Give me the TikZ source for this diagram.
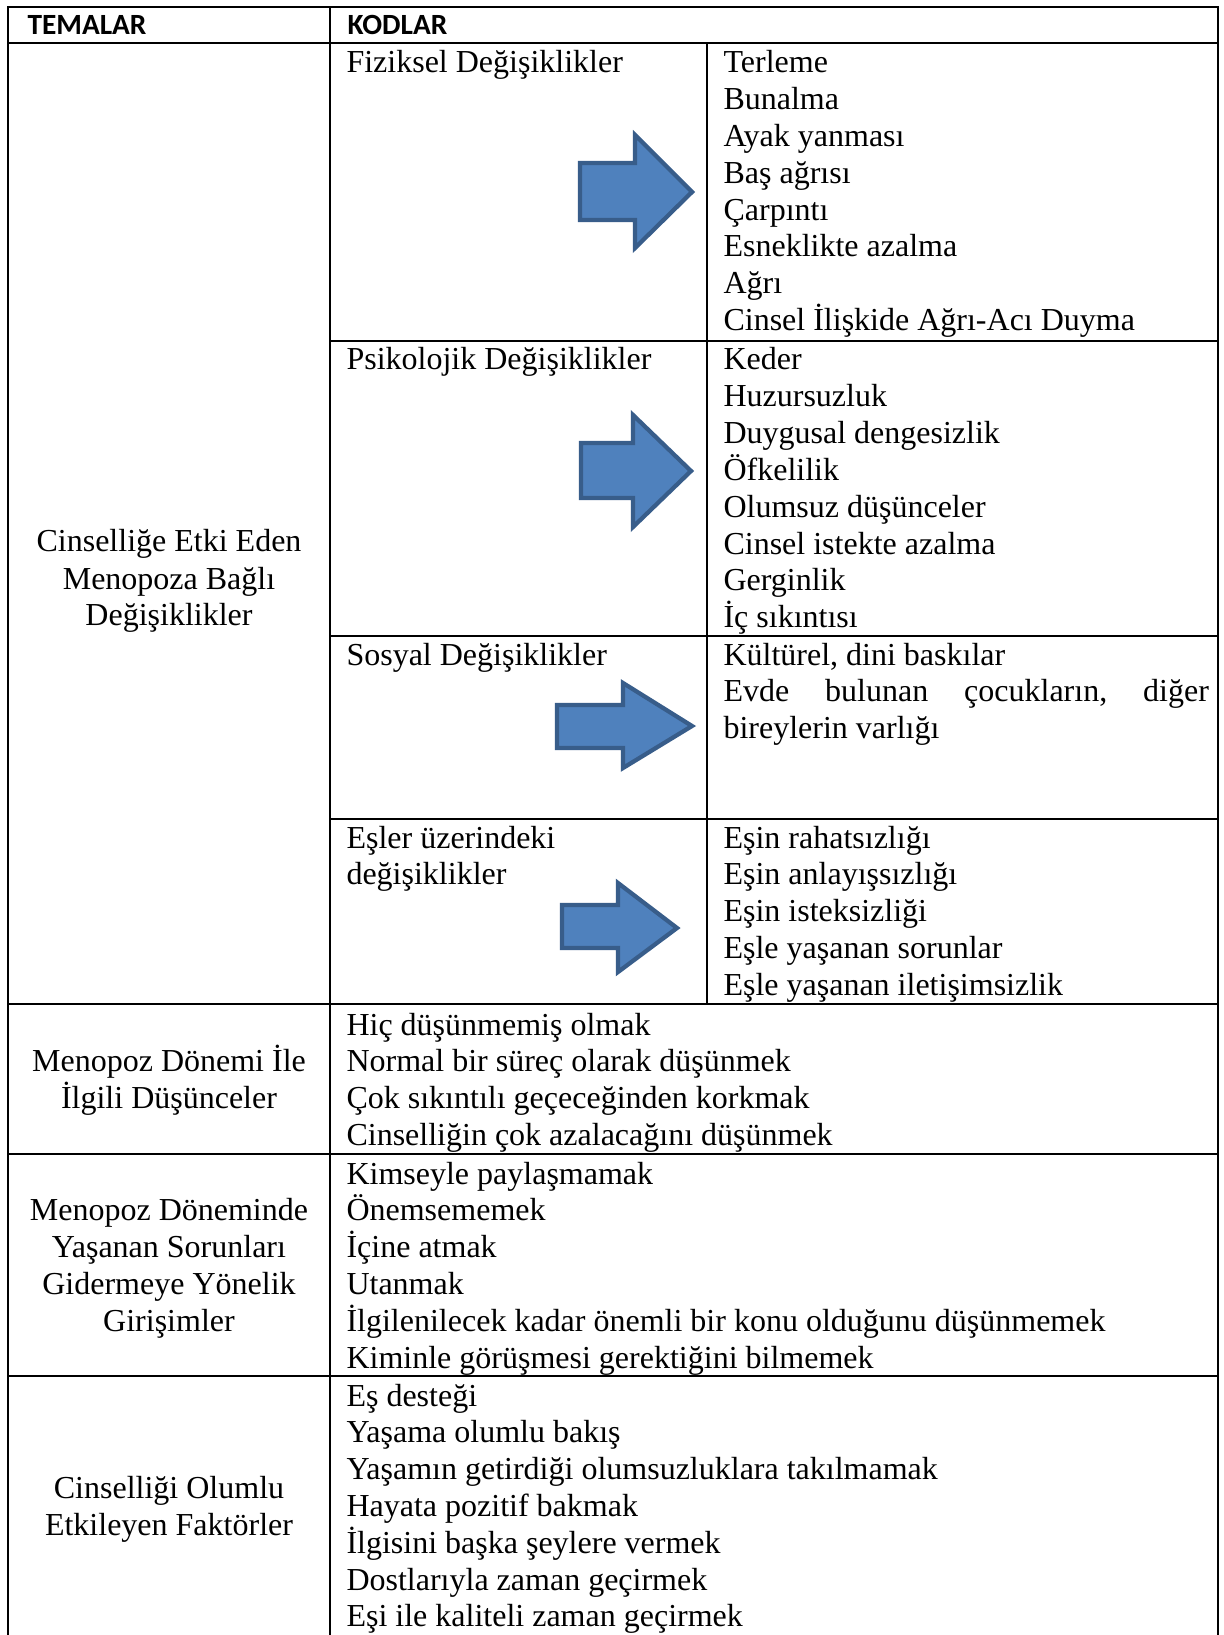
\documentclass[tikz,border=0pt]{standalone}
\usepackage{fontspec}
\setmainfont{Liberation Serif}
\newfontfamily\hdrfont{Carlito}
\definecolor{arrowfill}{HTML}{4F81BD}
\definecolor{arrowline}{HTML}{385D8A}
\begin{document}
\begin{tikzpicture}[x=0.375pt,y=-0.375pt,
  tline/.style={line width=0.8pt},
  body/.style={font=\fontsize{12}{13.8}\selectfont, inner sep=0pt, anchor=base west},
  theme/.style={font=\fontsize{12}{13.8}\selectfont, inner sep=0pt, anchor=base},
  hdr/.style={font=\hdrfont\bfseries\fontsize{11}{13}\selectfont, inner sep=0pt, anchor=base west},
  bluearrow/.style={fill=arrowfill, draw=arrowline, line width=1.6pt, line join=miter}]

\useasboundingbox (0,0) rectangle (1223,1635);
\fill[white] (0,0) rectangle (1223,1635);

% table rules
\draw[tline] (8,1635) -- (8,7) -- (1218,7) -- (1218,1635);
\draw[tline] (330,7) -- (330,1635);
\draw[tline] (707,43) -- (707,1004);
\draw[tline] (8,43) -- (1218,43);
\draw[tline] (330,341) -- (1218,341);
\draw[tline] (330,636) -- (1218,636);
\draw[tline] (330,819) -- (1218,819);
\draw[tline] (8,1004) -- (1218,1004);
\draw[tline] (8,1154) -- (1218,1154);
\draw[tline] (8,1376) -- (1218,1376);

% header
\node[hdr] (h1) at (27,35) {TEMALAR};
\node[hdr] (h2) at (347,35) {KODLAR};

% theme column
\node[theme] (t1a) at (169,552) {Cinselliğe Etki Eden};
\node[theme] (t1b) at (169,589) {Menopoza Bağlı};
\node[theme] (t1c) at (169,625) {Değişiklikler};
\node[theme] (t2a) at (169,1071) {Menopoz Dönemi İle};
\node[theme] (t2b) at (169,1108) {İlgili Düşünceler};
\node[theme] (t3a) at (169,1220) {Menopoz Döneminde};
\node[theme] (t3b) at (169,1257) {Yaşanan Sorunları};
\node[theme] (t3c) at (169,1294) {Gidermeye Yönelik};
\node[theme] (t3d) at (169,1331) {Girişimler};
\node[theme] (t4a) at (169,1498) {Cinselliği Olumlu};
\node[theme] (t4b) at (169,1535) {Etkileyen Faktörler};

% sub-themes
\node[body] (s1) at (346,73) {Fiziksel Değişiklikler};
\node[body] (s2) at (346,370) {Psikolojik Değişiklikler};
\node[body] (s3) at (346,665) {Sosyal Değişiklikler};
\node[body] (s4a) at (346,848) {Eşler üzerindeki};
\node[body] (s4b) at (346,884.8) {değişiklikler};

% codes
\foreach \t [count=\i] in {Terleme, Bunalma, Ayak yanması, Baş ağrısı, Çarpıntı, Esneklikte azalma, Ağrı, Cinsel İlişkide Ağrı-Acı Duyma}
  \node[body] (fz\i) at (723,{73+(\i-1)*36.8}) {\t};
\foreach \t [count=\i] in {Keder, Huzursuzluk, Duygusal dengesizlik, Öfkelilik, Olumsuz düşünceler, Cinsel istekte azalma, Gerginlik, İç sıkıntısı}
  \node[body] (ps\i) at (723,{370+(\i-1)*36.8}) {\t};
\node[body] (so1) at (723,665) {Kültürel, dini baskılar};
\node[body] (so2) at (723,701.8) {\hbox to 182pt{Evde\hfill bulunan\hfill çocukların,\hfill diğer}};
\node[body] (so3) at (723,738.6) {bireylerin varlığı};
\foreach \t [count=\i] in {Eşin rahatsızlığı, Eşin anlayışsızlığı, Eşin isteksizliği, Eşle yaşanan sorunlar, Eşle yaşanan iletişimsizlik}
  \node[body] (es\i) at (723,{848+(\i-1)*36.8}) {\t};
\foreach \t [count=\i] in {Hiç düşünmemiş olmak, Normal bir süreç olarak düşünmek, Çok sıkıntılı geçeceğinden korkmak, Cinselliğin çok azalacağını düşünmek}
  \node[body] (md\i) at (346,{1035+(\i-1)*36.8}) {\t};
\foreach \t [count=\i] in {Kimseyle paylaşmamak, Önemsememek, İçine atmak, Utanmak, İlgilenilecek kadar önemli bir konu olduğunu düşünmemek, Kiminle görüşmesi gerektiğini bilmemek}
  \node[body] (gr\i) at (346,{1184+(\i-1)*36.8}) {\t};
\foreach \t [count=\i] in {Eş desteği, Yaşama olumlu bakış, Yaşamın getirdiği olumsuzluklara takılmamak, Hayata pozitif bakmak, İlgisini başka şeylere vermek, Dostlarıyla zaman geçirmek, Eşi ile kaliteli zaman geçirmek}
  \node[body] (fk\i) at (346,{1406+(\i-1)*36.8}) {\t};

% block arrows
\filldraw[bluearrow] (580,163) -- (635,163) -- (635,135) -- (692,192) -- (635,248) -- (635,220) -- (580,220) -- cycle;
\filldraw[bluearrow] (581,443) -- (633,443) -- (633,415) -- (691,471) -- (633,527) -- (633,498) -- (581,498) -- cycle;
\filldraw[bluearrow] (557,705) -- (623,705) -- (623,683) -- (692,726) -- (623,768) -- (623,748) -- (557,748) -- cycle;
\filldraw[bluearrow] (562,905) -- (618,905) -- (618,883) -- (677,928) -- (618,972) -- (618,948) -- (562,948) -- cycle;
\end{tikzpicture}
\end{document}
